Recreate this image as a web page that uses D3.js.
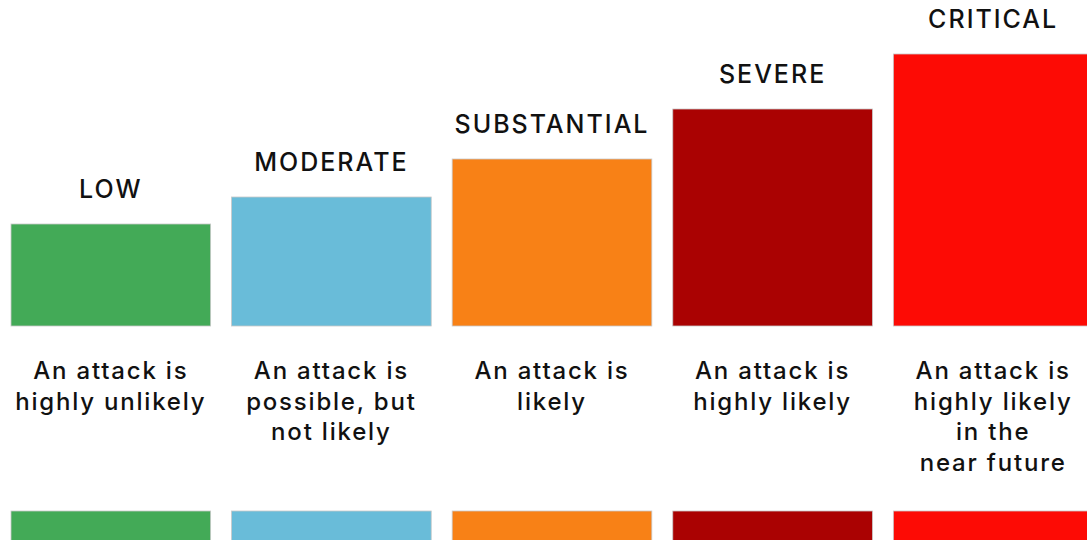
<!DOCTYPE html>
<html>
<head>
<meta charset="utf-8">
<script src="https://cdn.jsdelivr.net/npm/d3@7"></script>
<style>
  html, body { margin: 0; padding: 0; background: #fff; overflow: hidden; }
  svg { display: block; }
  .level { font-family: Inter, "Noto Sans", sans-serif; font-weight: 500; font-size: 25px; letter-spacing: 2px; fill: #111; text-anchor: middle; }
  .desc { font-family: Inter, "Noto Sans", sans-serif; font-weight: 500; font-size: 24px; letter-spacing: 1.8px; fill: #111; text-anchor: middle; }
</style>
</head>
<body>
<svg width="1087" height="540"></svg>
<script>
const LEVELS = ['LOW', 'MODERATE', 'SUBSTANTIAL', 'SEVERE', 'CRITICAL'];
const HEIGHTS = [102, 129, 167, 217, 272];
const COLORS = ['#43aa57', '#69bcd9', '#f88116', '#aa0202', '#fd0b05'];
const DESCRIPTIONS = [
    ['An attack is', 'highly unlikely'],
    ['An attack is', 'possible, but', 'not likely'],
    ['An attack is', 'likely'],
    ['An attack is', 'highly likely'],
    ['An attack is', 'highly likely', 'in the', 'near future'],
];

const svg = d3.select('svg');

const x = d3.scaleBand()
    .domain(LEVELS)
    .range([11, 1093])
    .paddingInner(0.095)
    .paddingOuter(0);

const y = d3.scaleLinear()
    .domain([0, 272])
    .range([326, 54]);

const data = LEVELS.map((name, i) => ({ name, h: HEIGHTS[i], color: COLORS[i], desc: DESCRIPTIONS[i] }));

// main bars
svg.selectAll('.bar')
    .data(data)
    .enter()
    .append('rect')
    .classed('bar', true)
    .attr('x', d => x(d.name))
    .attr('y', d => y(d.h))
    .attr('width', x.bandwidth())
    .attr('height', d => y(0) - y(d.h))
    .attr('fill', d => d.color)
    .attr('stroke', '#c8c8c8')
    .attr('stroke-width', 0.8);

// level names above the bars
svg.selectAll('.level')
    .data(data)
    .enter()
    .append('text')
    .classed('level', true)
    .attr('x', d => x(d.name) + x.bandwidth() / 2)
    .attr('y', d => y(d.h) - 26)
    .text(d => d.name);

// descriptions under the bars
const desc = svg.selectAll('.desc')
    .data(data)
    .enter()
    .append('text')
    .classed('desc', true)
    .attr('x', d => x(d.name) + x.bandwidth() / 2)
    .attr('y', 379);

desc.selectAll('tspan')
    .data(d => d.desc.map(line => ({ line, cx: x(d.name) + x.bandwidth() / 2 })))
    .enter()
    .append('tspan')
    .attr('x', d => d.cx)
    .attr('dy', (d, i) => i === 0 ? 0 : 30.5)
    .text(d => d.line);

// colour strip at the bottom
svg.selectAll('.strip')
    .data(data)
    .enter()
    .append('rect')
    .classed('strip', true)
    .attr('x', d => x(d.name))
    .attr('y', 511)
    .attr('width', x.bandwidth())
    .attr('height', 40)
    .attr('fill', d => d.color)
    .attr('stroke', '#c8c8c8')
    .attr('stroke-width', 0.8);
</script>
</body>
</html>
